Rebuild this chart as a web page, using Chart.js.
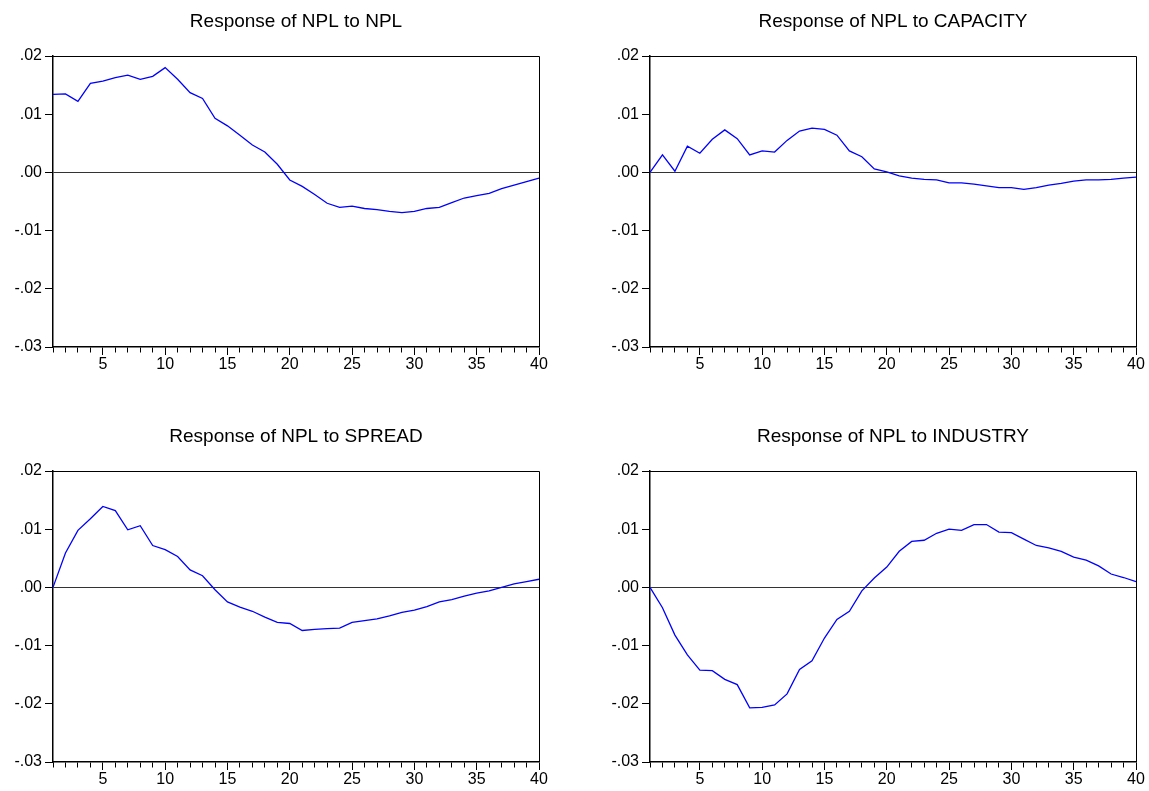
<!DOCTYPE html>
<html>
<head>
<meta charset="utf-8">
<script src="https://cdn.jsdelivr.net/npm/chart.js@4.4.1/dist/chart.umd.min.js"></script>
<style>
  html, body { margin: 0; padding: 0; background: #fff; overflow: hidden; width: 1149px; height: 791px; }
  canvas { position: absolute; }
</style>
</head>
<body>
<canvas id="npl" width="592" height="395" style="left:0;top:0"></canvas>
<canvas id="capacity" width="592" height="395" style="left:597px;top:0"></canvas>
<canvas id="spread" width="592" height="395" style="left:0;top:415px"></canvas>
<canvas id="industry" width="592" height="395" style="left:597px;top:415px"></canvas>
<script>
// --- Data (impulse responses) ---
const lags = [1, 2, 3, 4, 5, 6, 7, 8, 9, 10, 11, 12, 13, 14, 15, 16, 17, 18, 19, 20,
              21, 22, 23, 24, 25, 26, 27, 28, 29, 30, 31, 32, 33, 34, 35, 36, 37, 38, 39, 40];

const nplToNpl = [0.0134, 0.0135, 0.0122, 0.0153, 0.0157, 0.0163, 0.0167, 0.0160, 0.0165, 0.0180,
                  0.0160, 0.0137, 0.0127, 0.0093, 0.0080, 0.0064, 0.0047, 0.0035, 0.0014, -0.0013,
                  -0.0024, -0.0038, -0.0053, -0.0060, -0.0058, -0.0062, -0.0064, -0.0067, -0.0069, -0.0067,
                  -0.0062, -0.0060, -0.0052, -0.0044, -0.0040, -0.0036, -0.0028, -0.0022, -0.0016, -0.0010];

const nplToCapacity = [0.0000, 0.0030, 0.0002, 0.0045, 0.0033, 0.0057, 0.0073, 0.0058, 0.0030, 0.0037,
                       0.0035, 0.0055, 0.0071, 0.0076, 0.0074, 0.0064, 0.0037, 0.0027, 0.0006, 0.0001,
                       -0.0006, -0.0010, -0.0012, -0.0013, -0.0018, -0.0018, -0.0020, -0.0023, -0.0026, -0.0026,
                       -0.0029, -0.0026, -0.0022, -0.0019, -0.0015, -0.0013, -0.0013, -0.0012, -0.0010, -0.0008];

const nplToSpread = [0.0000, 0.0059, 0.0098, 0.0118, 0.0139, 0.0132, 0.0099, 0.0106, 0.0072, 0.0065,
                     0.0053, 0.0030, 0.0020, -0.0004, -0.0025, -0.0034, -0.0041, -0.0051, -0.0060, -0.0062,
                     -0.0074, -0.0072, -0.0071, -0.0070, -0.0060, -0.0057, -0.0054, -0.0049, -0.0043, -0.0039,
                     -0.0033, -0.0025, -0.0021, -0.0015, -0.0010, -0.0006, 0.0000, 0.0006, 0.0010, 0.0014];

const nplToIndustry = [0.0000, -0.0035, -0.0082, -0.0116, -0.0142, -0.0143, -0.0158, -0.0167, -0.0207, -0.0206,
                       -0.0202, -0.0183, -0.0141, -0.0126, -0.0087, -0.0055, -0.0041, -0.0006, 0.0016, 0.0035,
                       0.0062, 0.0079, 0.0081, 0.0093, 0.0100, 0.0098, 0.0108, 0.0108, 0.0095, 0.0094,
                       0.0083, 0.0072, 0.0068, 0.0062, 0.0052, 0.0047, 0.0037, 0.0023, 0.0017, 0.0010];

const yMin = -0.03, yMax = 0.02, yStep = 0.01;

const fontFamily = "'Liberation Sans', Arial, sans-serif";
Chart.defaults.font.family = fontFamily;
Chart.defaults.color = '#000';

// top and right edges of the plot frame
const frame = {
    id: 'frame',
    afterDraw(chart) {
        const { ctx, chartArea: a } = chart;
        ctx.save();
        ctx.strokeStyle = '#000';
        ctx.lineWidth = 1;
        ctx.beginPath();
        ctx.moveTo(a.left, Math.round(a.top) + 0.5);
        ctx.lineTo(Math.round(a.right) + 0.5, Math.round(a.top) + 0.5);
        ctx.lineTo(Math.round(a.right) + 0.5, a.bottom);
        ctx.stroke();
        ctx.restore();
    }
};

// title centred over the plot area (the built-in one centres over the canvas)
const panelTitle = {
    id: 'panelTitle',
    afterDraw(chart, args, opts) {
        const { ctx, chartArea: a } = chart;
        ctx.save();
        ctx.font = '19px ' + fontFamily;
        ctx.fillStyle = '#000';
        ctx.textAlign = 'center';
        ctx.textBaseline = 'middle';
        ctx.fillText(opts.text, (a.left + a.right) / 2, 22);
        ctx.restore();
    }
};

function yLabel(v) {
    if (Math.abs(v) < 1e-9) return '.00';
    return (v < 0 ? '-' : '') + Math.abs(v).toFixed(2).slice(1);
}

function irfChart(id, title, values) {
    new Chart(document.getElementById(id), {
        type: 'line',
        data: {
            labels: lags,
            datasets: [{
                data: values,
                borderColor: '#0000ff',
                borderWidth: 1.3,
                pointRadius: 0,
                tension: 0,
                fill: false
            }]
        },
        options: {
            responsive: false,
            animation: false,
            devicePixelRatio: 1,
            layout: { padding: { left: 0, right: 53, top: 56, bottom: 0 } },
            plugins: {
                legend: { display: false },
                tooltip: { enabled: false },
                title: { display: false },
                panelTitle: { text: title }
            },
            scales: {
                x: {
                    afterFit: (s) => { s.height = 48; },
                    grid: {
                        drawOnChartArea: false,
                        tickLength: 8,
                        tickColor: '#000',
                        tickBorderDash: (ctx) => (lags[ctx.index] % 5 === 0 ? [] : [5, 10])
                    },
                    border: { display: true, color: '#000', width: 1.5 },
                    ticks: {
                        autoSkip: false,
                        maxRotation: 0,
                        padding: 0,
                        font: { size: 16 },
                        callback: function (value) {
                            const lag = this.getLabelForValue(value);
                            return lag % 5 === 0 ? String(lag) : '';
                        }
                    }
                },
                y: {
                    min: yMin,
                    max: yMax,
                    afterFit: (s) => { s.width = 53; },
                    grid: {
                        color: (ctx) => (ctx.tick && Math.abs(ctx.tick.value) < 1e-9 ? '#333' : 'rgba(0,0,0,0)'),
                        lineWidth: 1,
                        tickLength: 8,
                        tickColor: '#000'
                    },
                    border: { display: true, color: '#000', width: 1.5 },
                    ticks: {
                        stepSize: yStep,
                        padding: 3,
                        font: { size: 16 },
                        callback: yLabel
                    }
                }
            }
        },
        plugins: [frame, panelTitle]
    });
}

irfChart('npl', 'Response of NPL to NPL', nplToNpl);
irfChart('capacity', 'Response of NPL to CAPACITY', nplToCapacity);
irfChart('spread', 'Response of NPL to SPREAD', nplToSpread);
irfChart('industry', 'Response of NPL to INDUSTRY', nplToIndustry);
</script>
</body>
</html>
